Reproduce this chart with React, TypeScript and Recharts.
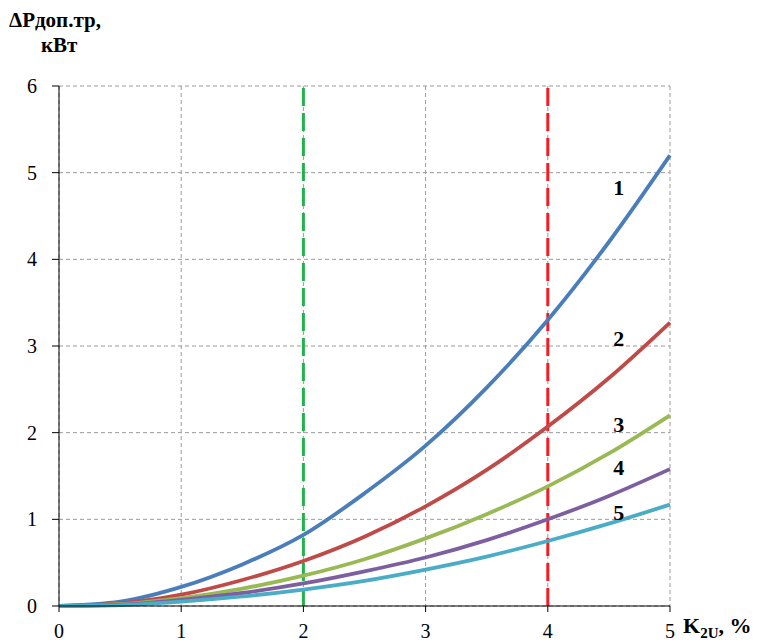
import React from 'react'
import { LineChart, Line, XAxis, YAxis, CartesianGrid, ReferenceLine, ReferenceDot } from 'recharts'

const K2U = [0, 0.5, 1, 1.5, 2, 2.5, 3, 3.5, 4, 4.5, 5]
const CURVE_1 = [0, 0.05, 0.22, 0.48, 0.82, 1.3, 1.85, 2.52, 3.3, 4.2, 5.2]
const CURVE_2 = [0, 0.03, 0.13, 0.3, 0.52, 0.8, 1.15, 1.57, 2.07, 2.63, 3.27]
const CURVE_3 = [0, 0.02, 0.09, 0.2, 0.35, 0.54, 0.78, 1.06, 1.38, 1.76, 2.2]
const CURVE_4 = [0, 0.015, 0.07, 0.15, 0.26, 0.4, 0.56, 0.76, 1.0, 1.27, 1.58]
const CURVE_5 = [0, 0.01, 0.05, 0.11, 0.19, 0.29, 0.42, 0.57, 0.75, 0.95, 1.17]

const X_TICKS = [0, 1, 2, 3, 4, 5]
const Y_TICKS = [0, 1, 2, 3, 4, 5, 6]

// curve numbers, placed in data coordinates
const CURVE_LABELS = [
  { name: '1', x: 4.58, y: 4.83 },
  { name: '2', x: 4.58, y: 3.09 },
  { name: '3', x: 4.58, y: 2.1 },
  { name: '4', x: 4.58, y: 1.6 },
  { name: '5', x: 4.58, y: 1.08 },
]

const COLORS = ['#4a7ebb', '#be4b48', '#98b954', '#7d5fa0', '#4bacc6']
const SERIES = [CURVE_1, CURVE_2, CURVE_3, CURVE_4, CURVE_5]

const data = K2U.map((x, i) => ({
  x,
  c1: CURVE_1[i],
  c2: CURVE_2[i],
  c3: CURVE_3[i],
  c4: CURVE_4[i],
  c5: CURVE_5[i],
}))

const FONT = 'Liberation Serif, DejaVu Serif, serif'

export default function App() {
  const tick = { fontSize: 20, fill: '#000', fontFamily: FONT }
  return (
    <div style={{ position: 'absolute', left: 0, top: 0, width: 760, height: 643, fontFamily: FONT, background: '#fff' }}>
      <LineChart width={760} height={643} data={data} margin={{ top: 86, right: 90, bottom: 7, left: 0 }} style={{ fontFamily: FONT }}>
        <CartesianGrid stroke="#9a9a9a" strokeDasharray="4 3" />
        <XAxis
          type="number"
          dataKey="x"
          domain={[0, 5]}
          ticks={X_TICKS}
          height={30}
          tick={tick}
          tickSize={6}
          tickMargin={12}
          axisLine={{ stroke: '#000' }}
          tickLine={{ stroke: '#000' }}
        />
        <YAxis
          type="number"
          domain={[0, 6]}
          ticks={Y_TICKS}
          width={59}
          tick={tick}
          tickSize={7}
          tickMargin={15}
          axisLine={{ stroke: '#000' }}
          tickLine={{ stroke: '#000' }}
        />
        <ReferenceLine x={2} stroke="#22b24c" strokeWidth={3} strokeDasharray="18 7" />
        <ReferenceLine x={4} stroke="#f41c24" strokeWidth={3} strokeDasharray="18 7" />
        {SERIES.map((_, i) => (
          <Line
            key={i}
            type="monotone"
            dataKey={`c${i + 1}`}
            stroke={COLORS[i]}
            strokeWidth={3.8}
            dot={false}
            isAnimationActive={false}
          />
        ))}
        {CURVE_LABELS.map(l => (
          <ReferenceDot
            key={l.name}
            x={l.x}
            y={l.y}
            r={0}
            stroke="none"
            label={{ value: l.name, position: 'center', fontSize: 22, fontWeight: 'bold', fill: '#000', fontFamily: FONT }}
          />
        ))}
      </LineChart>
      <div style={{ position: 'absolute', left: 9, top: 8, fontSize: 21, fontWeight: 'bold', lineHeight: '24px' }}>
        ΔPдоп.тр,
      </div>
      <div style={{ position: 'absolute', left: 41, top: 33, fontSize: 21, fontWeight: 'bold', lineHeight: '24px' }}>
        кВт
      </div>
      <div style={{ position: 'absolute', left: 683, top: 614, fontSize: 22, fontWeight: 'bold', lineHeight: '24px', whiteSpace: 'nowrap' }}>
        K<sub style={{ fontSize: 15 }}>2U</sub>, %
      </div>
    </div>
  )
}
